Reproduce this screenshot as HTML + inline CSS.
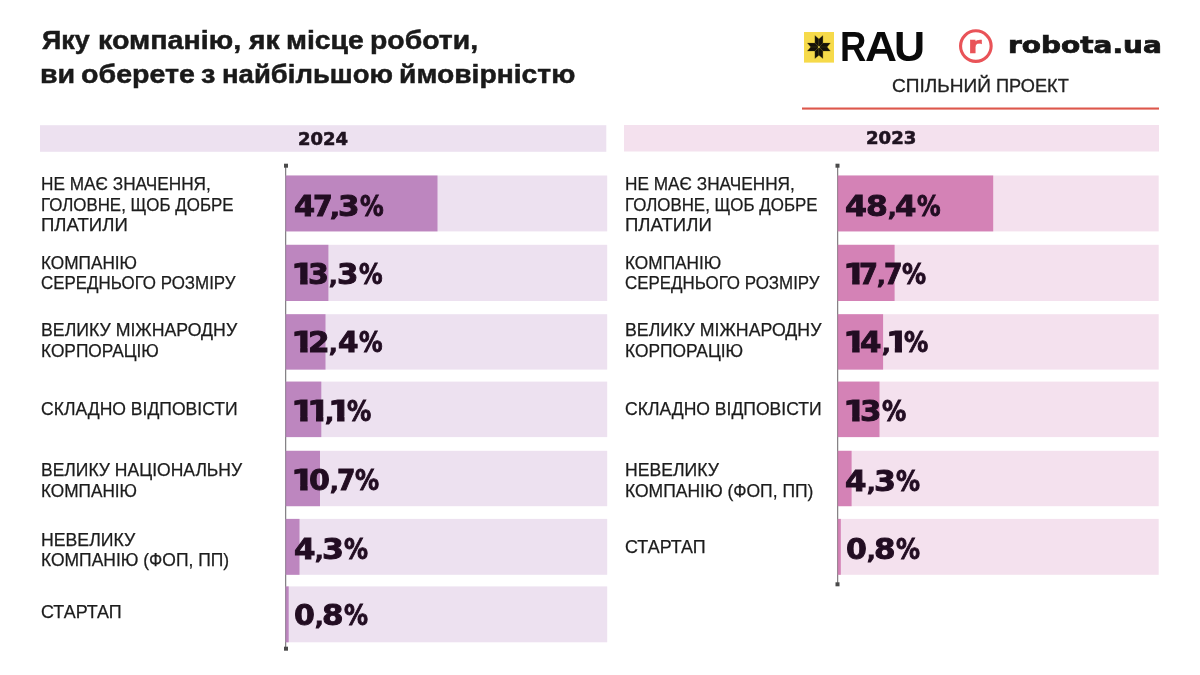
<!DOCTYPE html>
<html lang="uk"><head><meta charset="utf-8"><title>Яку компанію, як місце роботи, ви оберете з найбільшою ймовірністю</title>
<style>
html,body{margin:0;padding:0;background:#fff}
body{width:1200px;height:675px;position:relative;overflow:hidden;font-family:"Liberation Sans",sans-serif}
.a{position:absolute}
.t{position:absolute;line-height:1;white-space:nowrap;transform-origin:0 0}
.pct,.ttl,.ln{position:absolute;left:0;top:0}
h1,h2,.blk{margin:0;padding:0;font-size:0;font-weight:normal;display:block;position:static}
</style></head><body>

<svg class="a" style="left:0;top:0" width="1200" height="675" viewBox="0 0 1200 675">
<!-- RAU logo mark -->
<rect x="804.0" y="32.0" width="30.0" height="30.6" fill="#F6DA4A"/>
<g transform="translate(818.9 47.1)" fill="#15110a" stroke="#5d5218" stroke-width=".28" stroke-linejoin="miter">
<path d="M0 0V-8.2L-4-11.5V-3.95Z"/><path d="M0 0V-8.2L4-11.5V-3.95Z"/>
<path d="M0 0V8.2L-4 11.5V3.95Z"/><path d="M0 0V8.2L4 11.5V3.95Z"/>
<path d="M0 0H-8.2L-11.5-4H-3.95Z"/><path d="M0 0H-8.2L-11.5 4H-3.95Z"/>
<path d="M0 0H8.2L11.5-4H3.95Z"/><path d="M0 0H8.2L11.5 4H3.95Z"/>
<circle r="1.05" fill="#cfbd4e" stroke="none"/></g>

<!-- robota.ua ring -->
<circle cx="975.85" cy="46.1" r="15.3" fill="none" stroke="#E95358" stroke-width="3.1"/>
<!-- red rule -->
<rect x="802.0" y="107.5" width="357.0" height="2.1" fill="#DD574B"/>
<!-- year headers -->
<rect x="40.0" y="125.2" width="566.3" height="26.6" fill="#EDE1F0"/>
<rect x="624.0" y="125.0" width="535.0" height="26.5" fill="#F4E1EE"/>
<!-- 2024 chart -->
<rect x="285.1" y="166.0" width="1.1" height="482.0" fill="#8c8c8c"/>
<rect x="285.7" y="175.5" width="321.5" height="55.9" fill="#EDE1F0"/>
<rect x="285.7" y="175.5" width="151.8" height="55.9" fill="#BD86BF"/>
<rect x="285.7" y="244.8" width="321.5" height="56.2" fill="#EDE1F0"/>
<rect x="285.7" y="244.8" width="42.7" height="56.2" fill="#BD86BF"/>
<rect x="285.7" y="314.2" width="321.5" height="55.4" fill="#EDE1F0"/>
<rect x="285.7" y="314.2" width="39.8" height="55.4" fill="#BD86BF"/>
<rect x="285.7" y="381.6" width="321.5" height="55.5" fill="#EDE1F0"/>
<rect x="285.7" y="381.6" width="35.6" height="55.5" fill="#BD86BF"/>
<rect x="285.7" y="450.8" width="321.5" height="55.4" fill="#EDE1F0"/>
<rect x="285.7" y="450.8" width="34.3" height="55.4" fill="#BD86BF"/>
<rect x="285.7" y="518.9" width="321.5" height="55.9" fill="#EDE1F0"/>
<rect x="285.7" y="518.9" width="13.8" height="55.9" fill="#BD86BF"/>
<rect x="285.7" y="586.4" width="321.5" height="55.9" fill="#EDE1F0"/>
<rect x="285.7" y="586.4" width="3.0" height="55.9" fill="#BD86BF"/>
<rect x="285.1" y="166.0" width="1.1" height="482.0" fill="rgba(70,60,75,.25)"/>
<rect x="284.0" y="163.7" width="4.0" height="4.0" fill="#4a4a4a"/>
<rect x="284.0" y="646.7" width="4.0" height="4.0" fill="#4a4a4a"/>
<!-- 2023 chart -->
<rect x="837.1" y="166.0" width="1.1" height="418.0" fill="#8c8c8c"/>
<rect x="837.8" y="175.5" width="320.9" height="55.9" fill="#F4E1EE"/>
<rect x="837.8" y="175.5" width="155.4" height="55.9" fill="#D482B6"/>
<rect x="837.8" y="244.8" width="320.9" height="56.2" fill="#F4E1EE"/>
<rect x="837.8" y="244.8" width="56.8" height="56.2" fill="#D482B6"/>
<rect x="837.8" y="314.2" width="320.9" height="55.4" fill="#F4E1EE"/>
<rect x="837.8" y="314.2" width="45.3" height="55.4" fill="#D482B6"/>
<rect x="837.8" y="381.6" width="320.9" height="55.5" fill="#F4E1EE"/>
<rect x="837.8" y="381.6" width="41.7" height="55.5" fill="#D482B6"/>
<rect x="837.8" y="450.8" width="320.9" height="55.4" fill="#F4E1EE"/>
<rect x="837.8" y="450.8" width="13.8" height="55.4" fill="#D482B6"/>
<rect x="837.8" y="518.9" width="320.9" height="55.9" fill="#F4E1EE"/>
<rect x="837.8" y="518.9" width="3.0" height="55.9" fill="#D482B6"/>
<rect x="837.1" y="166.0" width="1.1" height="418.0" fill="rgba(75,60,70,.25)"/>
<rect x="835.5" y="163.7" width="4.0" height="4.0" fill="#4a4a4a"/>
<rect x="835.5" y="582.3" width="4.0" height="4.0" fill="#4a4a4a"/>
</svg>

<header>
<h1 class="blk"><span class="ttl" id="t1"><span class="t" id="t1w0" style="left:42.00px;top:27px;font-family:'Liberation Sans',sans-serif;font-weight:bold;font-size:26.2px;color:#1a1a1a;transform:scaleX(1.0267);-webkit-text-stroke:.5px #1a1a1a;">Яку </span><span class="t" id="t1w1" style="left:98.36px;top:27px;font-family:'Liberation Sans',sans-serif;font-weight:bold;font-size:26.2px;color:#1a1a1a;transform:scaleX(1.0938);-webkit-text-stroke:.5px #1a1a1a;">компанію, </span><span class="t" id="t1w2" style="left:249.04px;top:27px;font-family:'Liberation Sans',sans-serif;font-weight:bold;font-size:26.2px;color:#1a1a1a;transform:scaleX(1.0769);-webkit-text-stroke:.5px #1a1a1a;">як </span><span class="t" id="t1w3" style="left:286.38px;top:27px;font-family:'Liberation Sans',sans-serif;font-weight:bold;font-size:26.2px;color:#1a1a1a;transform:scaleX(1.0824);-webkit-text-stroke:.5px #1a1a1a;">місце </span><span class="t" id="t1w4" style="left:369.88px;top:27px;font-family:'Liberation Sans',sans-serif;font-weight:bold;font-size:26.2px;color:#1a1a1a;transform:scaleX(1.0832);-webkit-text-stroke:.5px #1a1a1a;">роботи,</span></span><span class="ttl" id="t2"><span class="t" id="t2w0" style="left:40.36px;top:61px;font-family:'Liberation Sans',sans-serif;font-weight:bold;font-size:26.2px;color:#1a1a1a;transform:scaleX(1.0940);-webkit-text-stroke:.5px #1a1a1a;">ви </span><span class="t" id="t2w1" style="left:80.68px;top:61px;font-family:'Liberation Sans',sans-serif;font-weight:bold;font-size:26.2px;color:#1a1a1a;transform:scaleX(1.0922);-webkit-text-stroke:.5px #1a1a1a;">оберете </span><span class="t" id="t2w2" style="left:201.45px;top:61px;font-family:'Liberation Sans',sans-serif;font-weight:bold;font-size:26.2px;color:#1a1a1a;transform:scaleX(1.1064);-webkit-text-stroke:.5px #1a1a1a;">з </span><span class="t" id="t2w3" style="left:221.93px;top:61px;font-family:'Liberation Sans',sans-serif;font-weight:bold;font-size:26.2px;color:#1a1a1a;transform:scaleX(1.0498);-webkit-text-stroke:.5px #1a1a1a;">найбільшою </span><span class="t" id="t2w4" style="left:399.38px;top:61px;font-family:'Liberation Sans',sans-serif;font-weight:bold;font-size:26.2px;color:#1a1a1a;transform:scaleX(1.0795);-webkit-text-stroke:.5px #1a1a1a;">ймовірністю</span></span></h1>
<div class="blk logos"><div class="ttl" id="rau"><span class="t" id="rau0" style="left:839.66px;top:25px;font-family:'Liberation Sans',sans-serif;font-weight:bold;font-size:43.4px;color:#0a0a0a;transform:scaleX(0.8400);">R</span><span class="t" id="rau1" style="left:864.72px;top:25px;font-family:'Liberation Sans',sans-serif;font-weight:bold;font-size:43.4px;color:#0a0a0a;transform:scaleX(1.0207);">A</span><span class="t" id="rau2" style="left:893.62px;top:25px;font-family:'Liberation Sans',sans-serif;font-weight:bold;font-size:43.4px;color:#0a0a0a;transform:scaleX(0.9923);">U</span></div><div class="t" id="rr" style="left:967.88px;top:34px;font-family:'DejaVu Sans','Liberation Sans',sans-serif;font-weight:bold;font-size:23.0px;color:#E95358;transform:scaleX(1.2000);-webkit-text-stroke:.5px #E95358;">r</div><div class="t" id="rob" style="left:1007.52px;top:34px;font-family:'DejaVu Sans','Liberation Sans',sans-serif;font-weight:bold;font-size:22.2px;color:#161616;transform:scaleX(1.2605);-webkit-text-stroke:.7px #161616;">robota.ua</div><div class="ttl" id="sp"><span class="t" id="sp0" style="left:891.55px;top:78px;font-family:'Liberation Sans',sans-serif;font-weight:normal;font-size:17.8px;color:#222;transform:scaleX(1.0715);-webkit-text-stroke:.3px #222;">СПІЛЬНИЙ </span><span class="t" id="sp1" style="left:995.72px;top:78px;font-family:'Liberation Sans',sans-serif;font-weight:normal;font-size:17.8px;color:#222;transform:scaleX(1.0222);-webkit-text-stroke:.3px #222;">ПРОЕКТ</span></div></div>
</header>
<section class="blk chart" id="chart2024">
<h2 class="blk"><span class="t" id="y24" style="left:298.31px;top:130px;font-family:'DejaVu Sans','Liberation Sans',sans-serif;font-weight:bold;font-size:18.2px;color:#1f1320;transform:scaleX(0.9898);-webkit-text-stroke:.6px #1f1320;">2024</span></h2>
<div class="blk row"><div class="blk lbl"><span class="ln" id="ll0"><span class="t" id="ll0w0" style="left:40.83px;top:176px;font-family:'Liberation Sans',sans-serif;font-weight:normal;font-size:17.6px;color:#1c1c1c;transform:scaleX(0.9792);-webkit-text-stroke:.25px #1c1c1c;">НЕ МАЄ ЗНАЧЕННЯ,</span></span><span class="ln" id="ll1"><span class="t" id="ll1w0" style="left:40.85px;top:197px;font-family:'Liberation Sans',sans-serif;font-weight:normal;font-size:17.6px;color:#1c1c1c;transform:scaleX(0.9605);-webkit-text-stroke:.25px #1c1c1c;">ГОЛОВНЕ, ЩОБ ДОБРЕ</span></span><span class="ln" id="ll2"><span class="t" id="ll2w0" style="left:40.72px;top:217px;font-family:'Liberation Sans',sans-serif;font-weight:normal;font-size:17.6px;color:#1c1c1c;transform:scaleX(1.0560);-webkit-text-stroke:.25px #1c1c1c;">ПЛАТИЛИ</span></span></div><div class="pct" id="pl0"><span class="t" id="pl0g0" style="left:293.69px;top:193px;font-family:'DejaVu Sans','Liberation Sans',sans-serif;font-weight:bold;font-size:28.0px;color:#220d22;transform:scaleX(1.0833);-webkit-text-stroke:0.9px #220d22;">4</span><span class="t" id="pl0g1" style="left:313.48px;top:193px;font-family:'DejaVu Sans','Liberation Sans',sans-serif;font-weight:bold;font-size:28.0px;color:#220d22;transform:scaleX(1.0154);-webkit-text-stroke:0.9px #220d22;">7</span><span class="t" id="pl0g2" style="left:329.91px;top:199px;font-family:'DejaVu Sans','Liberation Sans',sans-serif;font-weight:bold;font-size:20.5px;color:#220d22;transform:scaleX(1.2727);-webkit-text-stroke:0.9px #220d22;">,</span><span class="t" id="pl0g3" style="left:337.84px;top:193px;font-family:'DejaVu Sans','Liberation Sans',sans-serif;font-weight:bold;font-size:28.0px;color:#220d22;transform:scaleX(1.1077);-webkit-text-stroke:0.9px #220d22;">3</span><span class="t" id="pl0g4" style="left:359.74px;top:193px;font-family:'DejaVu Sans','Liberation Sans',sans-serif;font-weight:bold;font-size:28.0px;color:#220d22;transform:scaleX(0.8444);-webkit-text-stroke:0.9px #220d22;">%</span></div></div>
<div class="blk row"><div class="blk lbl"><span class="ln" id="ll3"><span class="t" id="ll3w0" style="left:41.03px;top:255px;font-family:'Liberation Sans',sans-serif;font-weight:normal;font-size:17.6px;color:#1c1c1c;transform:scaleX(0.9782);-webkit-text-stroke:.25px #1c1c1c;">КОМПАНІЮ</span></span><span class="ln" id="ll4"><span class="t" id="ll4w0" style="left:41.03px;top:275px;font-family:'Liberation Sans',sans-serif;font-weight:normal;font-size:17.6px;color:#1c1c1c;transform:scaleX(0.9618);-webkit-text-stroke:.25px #1c1c1c;">СЕРЕДНЬОГО РОЗМІРУ</span></span></div><div class="pct" id="pl1"><span class="t" id="pl1g0" style="left:291.32px;top:261px;font-family:'DejaVu Sans','Liberation Sans',sans-serif;font-weight:bold;font-size:28.0px;color:#220d22;transform:scaleX(1.2372);-webkit-text-stroke:0.9px #220d22;clip-path:polygon(0 0,100% 0,100% 18px,13.45px 18px,13.45px 100%,7.4px 100%,7.4px 18px,0 18px);">1</span><span class="t" id="pl1g1" style="left:308.38px;top:261px;font-family:'DejaVu Sans','Liberation Sans',sans-serif;font-weight:bold;font-size:28.0px;color:#220d22;transform:scaleX(1.0769);-webkit-text-stroke:0.9px #220d22;">3</span><span class="t" id="pl1g2" style="left:329.45px;top:267px;font-family:'DejaVu Sans','Liberation Sans',sans-serif;font-weight:bold;font-size:20.5px;color:#220d22;transform:scaleX(1.0957);-webkit-text-stroke:0.9px #220d22;">,</span><span class="t" id="pl1g3" style="left:337.20px;top:261px;font-family:'DejaVu Sans','Liberation Sans',sans-serif;font-weight:bold;font-size:28.0px;color:#220d22;transform:scaleX(1.1015);-webkit-text-stroke:0.9px #220d22;">3</span><span class="t" id="pl1g4" style="left:359.26px;top:261px;font-family:'DejaVu Sans','Liberation Sans',sans-serif;font-weight:bold;font-size:28.0px;color:#220d22;transform:scaleX(0.8404);-webkit-text-stroke:0.9px #220d22;">%</span></div></div>
<div class="blk row"><div class="blk lbl"><span class="ln" id="ll5"><span class="t" id="ll5w0" style="left:40.99px;top:322px;font-family:'Liberation Sans',sans-serif;font-weight:normal;font-size:17.6px;color:#1c1c1c;transform:scaleX(1.0067);-webkit-text-stroke:.25px #1c1c1c;">ВЕЛИКУ МІЖНАРОДНУ</span></span><span class="ln" id="ll6"><span class="t" id="ll6w0" style="left:41.02px;top:343px;font-family:'Liberation Sans',sans-serif;font-weight:normal;font-size:17.6px;color:#1c1c1c;transform:scaleX(0.9839);-webkit-text-stroke:.25px #1c1c1c;">КОРПОРАЦІЮ</span></span></div><div class="pct" id="pl2"><span class="t" id="pl2g0" style="left:291.32px;top:329px;font-family:'DejaVu Sans','Liberation Sans',sans-serif;font-weight:bold;font-size:28.0px;color:#220d22;transform:scaleX(1.2372);-webkit-text-stroke:0.9px #220d22;clip-path:polygon(0 0,100% 0,100% 18px,13.45px 18px,13.45px 100%,7.4px 100%,7.4px 18px,0 18px);">1</span><span class="t" id="pl2g1" style="left:308.06px;top:329px;font-family:'DejaVu Sans','Liberation Sans',sans-serif;font-weight:bold;font-size:28.0px;color:#220d22;transform:scaleX(1.1111);-webkit-text-stroke:0.9px #220d22;">2</span><span class="t" id="pl2g2" style="left:329.45px;top:335px;font-family:'DejaVu Sans','Liberation Sans',sans-serif;font-weight:bold;font-size:20.5px;color:#220d22;transform:scaleX(1.0957);-webkit-text-stroke:0.9px #220d22;">,</span><span class="t" id="pl2g3" style="left:337.80px;top:329px;font-family:'DejaVu Sans','Liberation Sans',sans-serif;font-weight:bold;font-size:28.0px;color:#220d22;transform:scaleX(1.0535);-webkit-text-stroke:0.9px #220d22;">4</span><span class="t" id="pl2g4" style="left:359.26px;top:329px;font-family:'DejaVu Sans','Liberation Sans',sans-serif;font-weight:bold;font-size:28.0px;color:#220d22;transform:scaleX(0.8404);-webkit-text-stroke:0.9px #220d22;">%</span></div></div>
<div class="blk row"><div class="blk lbl"><span class="ln" id="ll7"><span class="t" id="ll7w0" style="left:41.00px;top:401px;font-family:'Liberation Sans',sans-serif;font-weight:normal;font-size:17.6px;color:#1c1c1c;transform:scaleX(0.9982);-webkit-text-stroke:.25px #1c1c1c;">СКЛАДНО ВІДПОВІСТИ</span></span></div><div class="pct" id="pl3"><span class="t" id="pl3g0" style="left:291.32px;top:398px;font-family:'DejaVu Sans','Liberation Sans',sans-serif;font-weight:bold;font-size:28.0px;color:#220d22;transform:scaleX(1.2372);-webkit-text-stroke:0.9px #220d22;clip-path:polygon(0 0,100% 0,100% 18px,13.45px 18px,13.45px 100%,7.4px 100%,7.4px 18px,0 18px);">1</span><span class="t" id="pl3g1" style="left:306.87px;top:398px;font-family:'DejaVu Sans','Liberation Sans',sans-serif;font-weight:bold;font-size:28.0px;color:#220d22;transform:scaleX(1.2186);-webkit-text-stroke:0.9px #220d22;clip-path:polygon(0 0,100% 0,100% 18px,13.45px 18px,13.45px 100%,7.4px 100%,7.4px 18px,0 18px);">1</span><span class="t" id="pl3g2" style="left:324.56px;top:404px;font-family:'DejaVu Sans','Liberation Sans',sans-serif;font-weight:bold;font-size:20.5px;color:#220d22;transform:scaleX(1.1636);-webkit-text-stroke:0.9px #220d22;">,</span><span class="t" id="pl3g3" style="left:328.35px;top:398px;font-family:'DejaVu Sans','Liberation Sans',sans-serif;font-weight:bold;font-size:28.0px;color:#220d22;transform:scaleX(1.2279);-webkit-text-stroke:0.9px #220d22;clip-path:polygon(0 0,100% 0,100% 18px,13.45px 18px,13.45px 100%,7.4px 100%,7.4px 18px,0 18px);">1</span><span class="t" id="pl3g4" style="left:347.07px;top:398px;font-family:'DejaVu Sans','Liberation Sans',sans-serif;font-weight:bold;font-size:28.0px;color:#220d22;transform:scaleX(0.8630);-webkit-text-stroke:0.9px #220d22;">%</span></div></div>
<div class="blk row"><div class="blk lbl"><span class="ln" id="ll8"><span class="t" id="ll8w0" style="left:41.01px;top:462px;font-family:'Liberation Sans',sans-serif;font-weight:normal;font-size:17.6px;color:#1c1c1c;transform:scaleX(0.9958);-webkit-text-stroke:.25px #1c1c1c;">ВЕЛИКУ НАЦІОНАЛЬНУ</span></span><span class="ln" id="ll9"><span class="t" id="ll9w0" style="left:41.03px;top:483px;font-family:'Liberation Sans',sans-serif;font-weight:normal;font-size:17.6px;color:#1c1c1c;transform:scaleX(0.9782);-webkit-text-stroke:.25px #1c1c1c;">КОМПАНІЮ</span></span></div><div class="pct" id="pl4"><span class="t" id="pl4g0" style="left:291.32px;top:467px;font-family:'DejaVu Sans','Liberation Sans',sans-serif;font-weight:bold;font-size:28.0px;color:#220d22;transform:scaleX(1.2372);-webkit-text-stroke:0.9px #220d22;clip-path:polygon(0 0,100% 0,100% 18px,13.45px 18px,13.45px 100%,7.4px 100%,7.4px 18px,0 18px);">1</span><span class="t" id="pl4g1" style="left:308.63px;top:467px;font-family:'DejaVu Sans','Liberation Sans',sans-serif;font-weight:bold;font-size:28.0px;color:#220d22;transform:scaleX(1.0761);-webkit-text-stroke:0.9px #220d22;">0</span><span class="t" id="pl4g2" style="left:330.02px;top:473px;font-family:'DejaVu Sans','Liberation Sans',sans-serif;font-weight:bold;font-size:20.5px;color:#220d22;transform:scaleX(1.1091);-webkit-text-stroke:0.9px #220d22;">,</span><span class="t" id="pl4g3" style="left:337.43px;top:467px;font-family:'DejaVu Sans','Liberation Sans',sans-serif;font-weight:bold;font-size:28.0px;color:#220d22;transform:scaleX(0.9477);-webkit-text-stroke:0.9px #220d22;">7</span><span class="t" id="pl4g4" style="left:355.41px;top:467px;font-family:'DejaVu Sans','Liberation Sans',sans-serif;font-weight:bold;font-size:28.0px;color:#220d22;transform:scaleX(0.8587);-webkit-text-stroke:0.9px #220d22;">%</span></div></div>
<div class="blk row"><div class="blk lbl"><span class="ln" id="ll10"><span class="t" id="ll10w0" style="left:40.79px;top:532px;font-family:'Liberation Sans',sans-serif;font-weight:normal;font-size:17.6px;color:#1c1c1c;transform:scaleX(1.0049);-webkit-text-stroke:.25px #1c1c1c;">НЕВЕЛИКУ</span></span><span class="ln" id="ll11"><span class="t" id="ll11w0" style="left:41.01px;top:552px;font-family:'Liberation Sans',sans-serif;font-weight:normal;font-size:17.6px;color:#1c1c1c;transform:scaleX(0.9925);-webkit-text-stroke:.25px #1c1c1c;">КОМПАНІЮ (ФОП, ПП)</span></span></div><div class="pct" id="pl5"><span class="t" id="pl5g0" style="left:293.61px;top:536px;font-family:'DejaVu Sans','Liberation Sans',sans-serif;font-weight:bold;font-size:28.0px;color:#220d22;transform:scaleX(1.1042);-webkit-text-stroke:0.9px #220d22;">4</span><span class="t" id="pl5g1" style="left:314.75px;top:542px;font-family:'DejaVu Sans','Liberation Sans',sans-serif;font-weight:bold;font-size:20.5px;color:#220d22;transform:scaleX(1.0909);-webkit-text-stroke:0.9px #220d22;">,</span><span class="t" id="pl5g2" style="left:322.06px;top:536px;font-family:'DejaVu Sans','Liberation Sans',sans-serif;font-weight:bold;font-size:28.0px;color:#220d22;transform:scaleX(1.1292);-webkit-text-stroke:0.9px #220d22;">3</span><span class="t" id="pl5g3" style="left:344.26px;top:536px;font-family:'DejaVu Sans','Liberation Sans',sans-serif;font-weight:bold;font-size:28.0px;color:#220d22;transform:scaleX(0.8550);-webkit-text-stroke:0.9px #220d22;">%</span></div></div>
<div class="blk row"><div class="blk lbl"><span class="ln" id="ll12"><span class="t" id="ll12w0" style="left:40.99px;top:604px;font-family:'Liberation Sans',sans-serif;font-weight:normal;font-size:17.6px;color:#1c1c1c;transform:scaleX(1.0181);-webkit-text-stroke:.25px #1c1c1c;">СТАРТАП</span></span></div><div class="pct" id="pl6"><span class="t" id="pl6g0" style="left:293.93px;top:602px;font-family:'DejaVu Sans','Liberation Sans',sans-serif;font-weight:bold;font-size:28.0px;color:#220d22;transform:scaleX(1.0714);-webkit-text-stroke:0.9px #220d22;">0</span><span class="t" id="pl6g1" style="left:314.75px;top:608px;font-family:'DejaVu Sans','Liberation Sans',sans-serif;font-weight:bold;font-size:20.5px;color:#220d22;transform:scaleX(1.0909);-webkit-text-stroke:0.9px #220d22;">,</span><span class="t" id="pl6g2" style="left:321.97px;top:602px;font-family:'DejaVu Sans','Liberation Sans',sans-serif;font-weight:bold;font-size:28.0px;color:#220d22;transform:scaleX(1.1059);-webkit-text-stroke:0.9px #220d22;">8</span><span class="t" id="pl6g3" style="left:344.26px;top:602px;font-family:'DejaVu Sans','Liberation Sans',sans-serif;font-weight:bold;font-size:28.0px;color:#220d22;transform:scaleX(0.8550);-webkit-text-stroke:0.9px #220d22;">%</span></div></div>
</section>
<section class="blk chart" id="chart2023">
<h2 class="blk"><span class="t" id="y23" style="left:865.96px;top:129px;font-family:'DejaVu Sans','Liberation Sans',sans-serif;font-weight:bold;font-size:18.2px;color:#1f1320;transform:scaleX(0.9948);-webkit-text-stroke:.6px #1f1320;">2023</span></h2>
<div class="blk row"><div class="blk lbl"><span class="ln" id="rl0"><span class="t" id="rl0w0" style="left:624.68px;top:176px;font-family:'Liberation Sans',sans-serif;font-weight:normal;font-size:17.6px;color:#1c1c1c;transform:scaleX(0.9792);-webkit-text-stroke:.25px #1c1c1c;">НЕ МАЄ ЗНАЧЕННЯ,</span></span><span class="ln" id="rl1"><span class="t" id="rl1w0" style="left:624.70px;top:197px;font-family:'Liberation Sans',sans-serif;font-weight:normal;font-size:17.6px;color:#1c1c1c;transform:scaleX(0.9605);-webkit-text-stroke:.25px #1c1c1c;">ГОЛОВНЕ, ЩОБ ДОБРЕ</span></span><span class="ln" id="rl2"><span class="t" id="rl2w0" style="left:624.58px;top:217px;font-family:'Liberation Sans',sans-serif;font-weight:normal;font-size:17.6px;color:#1c1c1c;transform:scaleX(1.0560);-webkit-text-stroke:.25px #1c1c1c;">ПЛАТИЛИ</span></span></div><div class="pct" id="pr0"><span class="t" id="pr0g0" style="left:845.30px;top:193px;font-family:'DejaVu Sans','Liberation Sans',sans-serif;font-weight:bold;font-size:28.0px;color:#220d22;transform:scaleX(1.1268);-webkit-text-stroke:0.9px #220d22;">4</span><span class="t" id="pr0g1" style="left:865.88px;top:193px;font-family:'DejaVu Sans','Liberation Sans',sans-serif;font-weight:bold;font-size:28.0px;color:#220d22;transform:scaleX(1.1224);-webkit-text-stroke:0.9px #220d22;">8</span><span class="t" id="pr0g2" style="left:887.71px;top:199px;font-family:'DejaVu Sans','Liberation Sans',sans-serif;font-weight:bold;font-size:20.5px;color:#220d22;transform:scaleX(1.0870);-webkit-text-stroke:0.9px #220d22;">,</span><span class="t" id="pr0g3" style="left:895.32px;top:193px;font-family:'DejaVu Sans','Liberation Sans',sans-serif;font-weight:bold;font-size:28.0px;color:#220d22;transform:scaleX(1.1014);-webkit-text-stroke:0.9px #220d22;">4</span><span class="t" id="pr0g4" style="left:917.42px;top:193px;font-family:'DejaVu Sans','Liberation Sans',sans-serif;font-weight:bold;font-size:28.0px;color:#220d22;transform:scaleX(0.8422);-webkit-text-stroke:0.9px #220d22;">%</span></div></div>
<div class="blk row"><div class="blk lbl"><span class="ln" id="rl3"><span class="t" id="rl3w0" style="left:624.63px;top:255px;font-family:'Liberation Sans',sans-serif;font-weight:normal;font-size:17.6px;color:#1c1c1c;transform:scaleX(0.9807);-webkit-text-stroke:.25px #1c1c1c;">КОМПАНІЮ</span></span><span class="ln" id="rl4"><span class="t" id="rl4w0" style="left:624.88px;top:275px;font-family:'Liberation Sans',sans-serif;font-weight:normal;font-size:17.6px;color:#1c1c1c;transform:scaleX(0.9618);-webkit-text-stroke:.25px #1c1c1c;">СЕРЕДНЬОГО РОЗМІРУ</span></span></div><div class="pct" id="pr1"><span class="t" id="pr1g0" style="left:842.74px;top:261px;font-family:'DejaVu Sans','Liberation Sans',sans-serif;font-weight:bold;font-size:28.0px;color:#220d22;transform:scaleX(1.2372);-webkit-text-stroke:0.9px #220d22;clip-path:polygon(0 0,100% 0,100% 18px,13.45px 18px,13.45px 100%,7.4px 100%,7.4px 18px,0 18px);">1</span><span class="t" id="pr1g1" style="left:859.29px;top:261px;font-family:'DejaVu Sans','Liberation Sans',sans-serif;font-weight:bold;font-size:28.0px;color:#220d22;transform:scaleX(0.9754);-webkit-text-stroke:0.9px #220d22;">7</span><span class="t" id="pr1g2" style="left:877.02px;top:267px;font-family:'DejaVu Sans','Liberation Sans',sans-serif;font-weight:bold;font-size:20.5px;color:#220d22;transform:scaleX(1.1091);-webkit-text-stroke:0.9px #220d22;">,</span><span class="t" id="pr1g3" style="left:884.32px;top:261px;font-family:'DejaVu Sans','Liberation Sans',sans-serif;font-weight:bold;font-size:28.0px;color:#220d22;transform:scaleX(0.9508);-webkit-text-stroke:0.9px #220d22;">7</span><span class="t" id="pr1g4" style="left:902.41px;top:261px;font-family:'DejaVu Sans','Liberation Sans',sans-serif;font-weight:bold;font-size:28.0px;color:#220d22;transform:scaleX(0.8587);-webkit-text-stroke:0.9px #220d22;">%</span></div></div>
<div class="blk row"><div class="blk lbl"><span class="ln" id="rl5"><span class="t" id="rl5w0" style="left:624.59px;top:322px;font-family:'Liberation Sans',sans-serif;font-weight:normal;font-size:17.6px;color:#1c1c1c;transform:scaleX(1.0080);-webkit-text-stroke:.25px #1c1c1c;">ВЕЛИКУ МІЖНАРОДНУ</span></span><span class="ln" id="rl6"><span class="t" id="rl6w0" style="left:624.62px;top:343px;font-family:'Liberation Sans',sans-serif;font-weight:normal;font-size:17.6px;color:#1c1c1c;transform:scaleX(0.9860);-webkit-text-stroke:.25px #1c1c1c;">КОРПОРАЦІЮ</span></span></div><div class="pct" id="pr2"><span class="t" id="pr2g0" style="left:842.74px;top:329px;font-family:'DejaVu Sans','Liberation Sans',sans-serif;font-weight:bold;font-size:28.0px;color:#220d22;transform:scaleX(1.2372);-webkit-text-stroke:0.9px #220d22;clip-path:polygon(0 0,100% 0,100% 18px,13.45px 18px,13.45px 100%,7.4px 100%,7.4px 18px,0 18px);">1</span><span class="t" id="pr2g1" style="left:860.32px;top:329px;font-family:'DejaVu Sans','Liberation Sans',sans-serif;font-weight:bold;font-size:28.0px;color:#220d22;transform:scaleX(1.1014);-webkit-text-stroke:0.9px #220d22;">4</span><span class="t" id="pr2g2" style="left:882.02px;top:335px;font-family:'DejaVu Sans','Liberation Sans',sans-serif;font-weight:bold;font-size:20.5px;color:#220d22;transform:scaleX(1.1091);-webkit-text-stroke:0.9px #220d22;">,</span><span class="t" id="pr2g3" style="left:885.80px;top:329px;font-family:'DejaVu Sans','Liberation Sans',sans-serif;font-weight:bold;font-size:28.0px;color:#220d22;transform:scaleX(1.1909);-webkit-text-stroke:0.9px #220d22;clip-path:polygon(0 0,100% 0,100% 18px,13.45px 18px,13.45px 100%,7.4px 100%,7.4px 18px,0 18px);">1</span><span class="t" id="pr2g4" style="left:904.07px;top:329px;font-family:'DejaVu Sans','Liberation Sans',sans-serif;font-weight:bold;font-size:28.0px;color:#220d22;transform:scaleX(0.8630);-webkit-text-stroke:0.9px #220d22;">%</span></div></div>
<div class="blk row"><div class="blk lbl"><span class="ln" id="rl7"><span class="t" id="rl7w0" style="left:624.85px;top:401px;font-family:'Liberation Sans',sans-serif;font-weight:normal;font-size:17.6px;color:#1c1c1c;transform:scaleX(0.9982);-webkit-text-stroke:.25px #1c1c1c;">СКЛАДНО ВІДПОВІСТИ</span></span></div><div class="pct" id="pr3"><span class="t" id="pr3g0" style="left:842.74px;top:398px;font-family:'DejaVu Sans','Liberation Sans',sans-serif;font-weight:bold;font-size:28.0px;color:#220d22;transform:scaleX(1.2372);-webkit-text-stroke:0.9px #220d22;clip-path:polygon(0 0,100% 0,100% 18px,13.45px 18px,13.45px 100%,7.4px 100%,7.4px 18px,0 18px);">1</span><span class="t" id="pr3g1" style="left:860.06px;top:398px;font-family:'DejaVu Sans','Liberation Sans',sans-serif;font-weight:bold;font-size:28.0px;color:#220d22;transform:scaleX(1.1015);-webkit-text-stroke:0.9px #220d22;">3</span><span class="t" id="pr3g2" style="left:881.57px;top:398px;font-family:'DejaVu Sans','Liberation Sans',sans-serif;font-weight:bold;font-size:28.0px;color:#220d22;transform:scaleX(0.8630);-webkit-text-stroke:0.9px #220d22;">%</span></div></div>
<div class="blk row"><div class="blk lbl"><span class="ln" id="rl8"><span class="t" id="rl8w0" style="left:624.65px;top:462px;font-family:'Liberation Sans',sans-serif;font-weight:normal;font-size:17.6px;color:#1c1c1c;transform:scaleX(1.0022);-webkit-text-stroke:.25px #1c1c1c;">НЕВЕЛИКУ</span></span><span class="ln" id="rl9"><span class="t" id="rl9w0" style="left:624.61px;top:483px;font-family:'Liberation Sans',sans-serif;font-weight:normal;font-size:17.6px;color:#1c1c1c;transform:scaleX(0.9939);-webkit-text-stroke:.25px #1c1c1c;">КОМПАНІЮ (ФОП, ПП)</span></span></div><div class="pct" id="pr4"><span class="t" id="pr4g0" style="left:845.46px;top:468px;font-family:'DejaVu Sans','Liberation Sans',sans-serif;font-weight:bold;font-size:28.0px;color:#220d22;transform:scaleX(1.1042);-webkit-text-stroke:0.9px #220d22;">4</span><span class="t" id="pr4g1" style="left:866.60px;top:474px;font-family:'DejaVu Sans','Liberation Sans',sans-serif;font-weight:bold;font-size:20.5px;color:#220d22;transform:scaleX(1.0909);-webkit-text-stroke:0.9px #220d22;">,</span><span class="t" id="pr4g2" style="left:873.91px;top:468px;font-family:'DejaVu Sans','Liberation Sans',sans-serif;font-weight:bold;font-size:28.0px;color:#220d22;transform:scaleX(1.1292);-webkit-text-stroke:0.9px #220d22;">3</span><span class="t" id="pr4g3" style="left:896.10px;top:468px;font-family:'DejaVu Sans','Liberation Sans',sans-serif;font-weight:bold;font-size:28.0px;color:#220d22;transform:scaleX(0.8550);-webkit-text-stroke:0.9px #220d22;">%</span></div></div>
<div class="blk row"><div class="blk lbl"><span class="ln" id="rl10"><span class="t" id="rl10w0" style="left:624.84px;top:539px;font-family:'Liberation Sans',sans-serif;font-weight:normal;font-size:17.6px;color:#1c1c1c;transform:scaleX(1.0181);-webkit-text-stroke:.25px #1c1c1c;">СТАРТАП</span></span></div><div class="pct" id="pr5"><span class="t" id="pr5g0" style="left:845.93px;top:536px;font-family:'DejaVu Sans','Liberation Sans',sans-serif;font-weight:bold;font-size:28.0px;color:#220d22;transform:scaleX(1.0714);-webkit-text-stroke:0.9px #220d22;">0</span><span class="t" id="pr5g1" style="left:866.75px;top:542px;font-family:'DejaVu Sans','Liberation Sans',sans-serif;font-weight:bold;font-size:20.5px;color:#220d22;transform:scaleX(1.0909);-webkit-text-stroke:0.9px #220d22;">,</span><span class="t" id="pr5g2" style="left:873.97px;top:536px;font-family:'DejaVu Sans','Liberation Sans',sans-serif;font-weight:bold;font-size:28.0px;color:#220d22;transform:scaleX(1.1059);-webkit-text-stroke:0.9px #220d22;">8</span><span class="t" id="pr5g3" style="left:896.26px;top:536px;font-family:'DejaVu Sans','Liberation Sans',sans-serif;font-weight:bold;font-size:28.0px;color:#220d22;transform:scaleX(0.8550);-webkit-text-stroke:0.9px #220d22;">%</span></div></div>
</section>
</body></html>
